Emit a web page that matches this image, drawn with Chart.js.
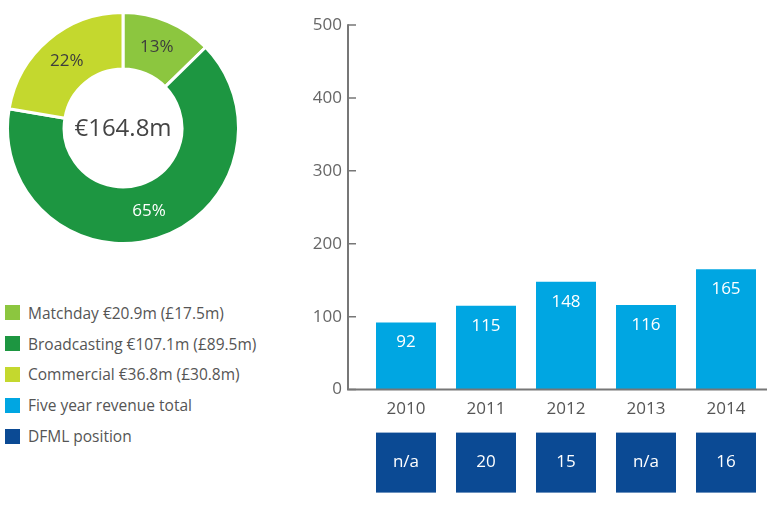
<!DOCTYPE html>
<html><head><meta charset="utf-8">
<script src="https://cdn.jsdelivr.net/npm/chart.js@4/dist/chart.umd.min.js"></script>
<style>
html,body{margin:0;padding:0;background:#fff;}
body{width:767px;height:511px;position:relative;overflow:hidden;font-family:"Open Sans",sans-serif;}
#donutWrap{position:absolute;left:6px;top:11px;width:234px;height:234px;}
#barWrap{position:absolute;left:300px;top:0;width:467px;height:511px;}
#legend{position:absolute;left:5px;top:297.5px;}
.li{display:flex;align-items:center;height:30.8px;font-size:15.5px;color:#555;white-space:nowrap;}
.sw{width:15px;height:15px;margin-right:8px;flex:none;}
</style></head><body>
<div id="donutWrap"><canvas id="donut"></canvas></div>
<div id="legend"></div>
<div id="barWrap"><canvas id="bars"></canvas></div>
<script>
const revenueCategories = ['Matchday', 'Broadcasting', 'Commercial'];
const revenueEur = [20.9, 107.1, 36.8];
const revenueGbp = [17.5, 89.5, 30.8];
const years = ['2010', '2011', '2012', '2013', '2014'];
const revenueTotals = [92, 115, 148, 116, 165];
const dfmlPositions = ['n/a', '20', '15', 'n/a', '16'];
const yTickValues = [0, 100, 200, 300, 400, 500];
const seriesNames = ['Five year revenue total', 'DFML position'];

const FONT = '"Open Sans", sans-serif';
const donutColors = ['#8cc63f', '#1d9641', '#c4d82e'];
const donutLabelColors = ['#3d3d3d', '#ffffff', '#3d3d3d'];
const barColor = '#00a6e2';
const dfmlColor = '#0b4a94';

// Legend
const legendItems = revenueCategories.map((c, i) => ({
  text: c + ' €' + revenueEur[i].toFixed(1) + 'm (£' + revenueGbp[i].toFixed(1) + 'm)',
  color: donutColors[i]
})).concat([{text: seriesNames[0], color: barColor}, {text: seriesNames[1], color: dfmlColor}]);
const legendEl = document.getElementById('legend');
legendItems.forEach(it => {
  const row = document.createElement('div'); row.className = 'li';
  const sw = document.createElement('span'); sw.className = 'sw'; sw.style.background = it.color;
  const tx = document.createElement('span'); tx.textContent = it.text;
  row.appendChild(sw); row.appendChild(tx); legendEl.appendChild(row);
});

const total = revenueEur.reduce((a, b) => a + b, 0);

const donutLabels = {
  id: 'donutLabels',
  afterDatasetsDraw(chart) {
    const ctx = chart.ctx;
    const meta = chart.getDatasetMeta(0);
    ctx.save();
    ctx.textAlign = 'center'; ctx.textBaseline = 'middle';
    ctx.font = '17px ' + FONT;
    meta.data.forEach((arc, i) => {
      const p = arc.getCenterPoint();
      ctx.fillStyle = donutLabelColors[i];
      ctx.fillText(Math.round(revenueEur[i] / total * 100) + '%', p.x, p.y);
    });
    const ca = chart.chartArea;
    ctx.fillStyle = '#444';
    ctx.font = '24px ' + FONT;
    ctx.fillText('€' + total.toFixed(1) + 'm', (ca.left + ca.right) / 2, (ca.top + ca.bottom) / 2 + 1);
    ctx.restore();
  }
};

new Chart(document.getElementById('donut'), {
  type: 'doughnut',
  data: {labels: revenueCategories, datasets: [{data: revenueEur, backgroundColor: donutColors, borderColor: '#ffffff', borderWidth: 3, hoverOffset: 0}]},
  options: {
    responsive: true, maintainAspectRatio: false, animation: false, events: [],
    cutout: '51%',
    plugins: {legend: {display: false}, tooltip: {enabled: false}}
  },
  plugins: [donutLabels]
});

const axesPlugin = {
  id: 'axesPlugin',
  afterDatasetsDraw(chart) {
    const ctx = chart.ctx, y = chart.scales.y, ca = chart.chartArea;
    const axX = ca.left - 18;
    const y0 = y.getPixelForValue(0), yTop = y.getPixelForValue(yTickValues[yTickValues.length - 1]);
    ctx.save();
    ctx.strokeStyle = '#777';
    ctx.lineWidth = 1.5;
    ctx.beginPath();
    yTickValues.forEach(v => { const py = y.getPixelForValue(v); ctx.moveTo(axX, py); ctx.lineTo(axX + 8, py); });
    ctx.stroke();
    ctx.lineWidth = 2;
    ctx.beginPath();
    ctx.moveTo(axX, yTop - 0.75); ctx.lineTo(axX, y0);
    ctx.moveTo(axX - 1, y0); ctx.lineTo(chart.width, y0);
    ctx.stroke();
    // value labels
    const meta = chart.getDatasetMeta(0);
    ctx.fillStyle = '#ffffff';
    ctx.font = '17px ' + FONT;
    ctx.textAlign = 'center'; ctx.textBaseline = 'middle';
    meta.data.forEach((bar, i) => { ctx.fillText(String(revenueTotals[i]), bar.x, bar.y + 20); });
    // DFML position boxes
    ctx.font = '17px ' + FONT;
    meta.data.forEach((bar, i) => {
      const w = bar.width, top = y0 + 43;
      ctx.fillStyle = dfmlColor;
      ctx.fillRect(bar.x - w / 2, top, w, w);
      ctx.fillStyle = '#ffffff';
      ctx.fillText(dfmlPositions[i], bar.x, top + w / 2);
    });
    ctx.restore();
  }
};

new Chart(document.getElementById('bars'), {
  type: 'bar',
  data: {labels: years, datasets: [{label: seriesNames[0], data: revenueTotals, backgroundColor: barColor, barPercentage: 0.75, categoryPercentage: 1}]},
  options: {
    responsive: true, maintainAspectRatio: false, animation: false, events: [],
    layout: {padding: {top: 25, right: 1, bottom: 83, left: 0}},
    plugins: {legend: {display: false}, tooltip: {enabled: false}},
    scales: {
      x: {grid: {display: false, drawTicks: false}, border: {display: false},
          ticks: {color: '#555', font: {size: 17, family: FONT}, padding: 9}},
      y: {min: 0, max: 500, afterFit(s) { s.width = 66; },
          grid: {display: false, drawTicks: true, tickLength: 24}, border: {display: false},
          afterBuildTicks(s) { s.ticks = yTickValues.map(v => ({value: v})); },
          ticks: {color: '#666', font: {size: 17, family: FONT}, padding: 0}}
    }
  },
  plugins: [axesPlugin]
});
</script>
</body></html>
